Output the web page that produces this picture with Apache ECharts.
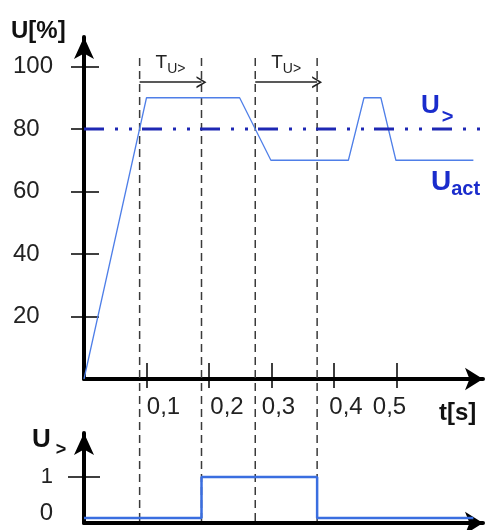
<!DOCTYPE html>
<html>
<head>
<meta charset="utf-8">
<script src="https://cdn.jsdelivr.net/npm/echarts@6/dist/echarts.min.js"></script>
<style>
  html, body { margin: 0; padding: 0; background: #fff; }
  #chart { width: 488px; height: 530px; }
</style>
</head>
<body>
<div id="chart"></div>
<script>
// U_act curve (time in s, value in %)
const uactTime = [0, 0.1, 0.249, 0.299, 0.423, 0.448, 0.475, 0.499, 0.623];
const uactValue = [0, 90, 90, 70, 70, 90, 90, 70, 70];

// threshold U>
const thresholdValue = 80;
const thresholdTime = [0, 0.637];

// dashed guides: pick-up crossing and end of delay
const guideTimes = [0.089, 0.188, 0.274, 0.373];
const delayStart = [0.089, 0.274];
const delayEnd = [0.188, 0.373];
const delayLevel = 95;

// U> output signal
const tripTime = [0, 0.188, 0.188, 0.373, 0.373, 0.623];
const tripValue = [0, 0, 1, 1, 0, 0];

// axes
const yTicks = [20, 40, 60, 80, 100];
const xTicks = [0.1, 0.2, 0.3, 0.4, 0.5];
const xTickLabels = ['0,1', '0,2', '0,3', '0,4', '0,5'];
const tripTicks = [0, 1];

const FONT = '"Liberation Sans", Arial, sans-serif';
const chart = echarts.init(document.getElementById('chart'));

// hand placed label shifts in the original drawing
const xLabelShift = [17, 18, 7, 12, -7];
const xRich = {};
xLabelShift.forEach((d, i) => {
  xRich['l' + i] = {
    fontSize: 24, color: '#222', fontFamily: FONT,
    padding: d >= 0 ? [0, 0, 0, 2 * d] : [0, -2 * d, 0, 0]
  };
});

const zip = (a, b) => a.map((v, i) => [v, b[i]]);
const nearest = (arr, v) => {
  let k = 0;
  arr.forEach((a, i) => { if (Math.abs(a - v) < Math.abs(arr[k] - v)) k = i; });
  return k;
};

const X_MAX = 0.6384;
const Y_MAX = 109.44;
const TRIP_MIN = -0.122;
const TRIP_MAX = 2.073;

const blackLine = { color: '#000', width: 4 };
const tickLine = { color: '#000', width: 1.5 };

const guideSeries = guideTimes.map(t => ({
  type: 'line',
  xAxisIndex: 0, yAxisIndex: 0,
  data: [[t, 102.7], [t, -46.1]],
  symbol: 'none',
  clip: false,
  silent: true,
  z: 1,
  lineStyle: { color: '#3a3a3a', width: 1.5, type: [8, 5] }
}));

const option = {
  animation: false,
  textStyle: { fontFamily: FONT },
  title: [
    { text: 'U[%]', left: 6, top: 14, textStyle: { fontSize: 24, fontWeight: 'bold', color: '#111', fontFamily: FONT } },
    { text: 't[s]', left: 434, top: 396, textStyle: { fontSize: 24, fontWeight: 'bold', color: '#111', fontFamily: FONT } },
    {
      text: '{u|U}{s|>}', left: 27, top: 416,
      textStyle: {
        rich: {
          u: { fontSize: 26, fontWeight: 'bold', color: '#111', fontFamily: FONT },
          s: { fontSize: 18, fontWeight: 'bold', color: '#111', fontFamily: FONT, padding: [20, 0, 0, 5] }
        }
      }
    },
    {
      text: '{u|U}{s|>}', left: 416, top: 80,
      textStyle: {
        rich: {
          u: { fontSize: 26, fontWeight: 'bold', color: '#1a2ccc', fontFamily: FONT },
          s: { fontSize: 20, fontWeight: 'bold', color: '#1a2ccc', fontFamily: FONT, padding: [22, 0, 0, 2] }
        }
      }
    },
    {
      text: '{u|U}{s|act}', left: 426, top: 160,
      textStyle: {
        rich: {
          u: { fontSize: 28, fontWeight: 'bold', color: '#1a2ccc', fontFamily: FONT },
          s: { fontSize: 20, fontWeight: 'bold', color: '#1a2ccc', fontFamily: FONT, padding: [14, 0, 0, 0] }
        }
      }
    }
  ],
  grid: [
    { left: 84, top: 37, width: 399, height: 342 },
    { left: 84, top: 433, width: 399, height: 90 }
  ],
  xAxis: [
    {
      gridIndex: 0, type: 'value', min: 0, max: X_MAX, position: 'bottom',
      axisLine: { onZero: false, lineStyle: blackLine, symbol: ['none', 'arrow'], symbolSize: [17, 18] },
      splitLine: { show: false },
      axisTick: { customValues: xTicks, length: 9, lineStyle: tickLine },
      axisLabel: {
        customValues: xTicks, margin: 16, fontSize: 24, color: '#222',
        formatter: v => { const i = nearest(xTicks, v); return '{l' + i + '|' + xTickLabels[i] + '}'; },
        rich: xRich
      }
    },
    {
      gridIndex: 0, type: 'value', min: 0, max: X_MAX, position: 'bottom', offset: 0,
      axisLine: { show: false, onZero: false },
      splitLine: { show: false },
      axisTick: { customValues: xTicks, inside: true, length: 16, lineStyle: tickLine },
      axisLabel: { show: false }
    },
    {
      gridIndex: 1, type: 'value', min: 0, max: X_MAX, position: 'bottom',
      axisLine: { onZero: false, lineStyle: blackLine, symbol: ['none', 'arrow'], symbolSize: [17, 18] },
      splitLine: { show: false },
      axisTick: { show: false },
      axisLabel: { show: false }
    }
  ],
  yAxis: [
    {
      gridIndex: 0, type: 'value', min: 0, max: Y_MAX, position: 'left',
      axisLine: { onZero: false, lineStyle: blackLine, symbol: ['none', 'arrow'], symbolSize: [15, 22] },
      splitLine: { show: false },
      axisTick: { customValues: yTicks, length: 13, lineStyle: tickLine },
      axisLabel: { customValues: yTicks, margin: 71, align: 'left', fontSize: 24, color: '#222' }
    },
    {
      gridIndex: 0, type: 'value', min: 0, max: Y_MAX, position: 'left', offset: 0,
      axisLine: { show: false, onZero: false },
      splitLine: { show: false },
      axisTick: { customValues: yTicks, inside: true, length: 15, lineStyle: tickLine },
      axisLabel: { show: false }
    },
    {
      gridIndex: 1, type: 'value', min: TRIP_MIN, max: TRIP_MAX, position: 'left',
      axisLine: { onZero: false, lineStyle: blackLine, symbol: ['none', 'arrow'], symbolSize: [15, 22] },
      splitLine: { show: false },
      axisTick: { customValues: [1], length: 16, lineStyle: tickLine },
      axisLabel: {
        customValues: tripTicks, margin: 31, fontSize: 22, color: '#222',
        formatter: v => (Math.round(v) === 0 ? '{z|0}' : '{o|1}'),
        rich: {
          z: { fontSize: 24, color: '#222', padding: [0, 0, 10, 0] },
          o: { fontSize: 22, color: '#222' }
        }
      }
    },
    {
      gridIndex: 1, type: 'value', min: TRIP_MIN, max: TRIP_MAX, position: 'left', offset: 0,
      axisLine: { show: false, onZero: false },
      splitLine: { show: false },
      axisTick: { customValues: [1], inside: true, length: 16, lineStyle: tickLine },
      axisLabel: { show: false }
    }
  ],
  series: [
    ...guideSeries,
    {
      name: 'U>',
      type: 'line',
      xAxisIndex: 0, yAxisIndex: 0,
      data: thresholdTime.map(t => [t, thresholdValue]),
      symbol: 'none',
      clip: false,
      z: 3,
      lineStyle: { color: '#1e28b4', width: 3, type: [20, 11, 3, 11, 3, 10] }
    },
    {
      name: 'Uact',
      type: 'line',
      xAxisIndex: 0, yAxisIndex: 0,
      data: zip(uactTime, uactValue),
      symbol: 'none',
      z: 2,
      lineStyle: { color: '#4f7fe8', width: 1.3 }
    },
    {
      name: 'delay',
      type: 'line',
      xAxisIndex: 0, yAxisIndex: 0,
      data: [],
      symbol: 'none',
      markLine: {
        silent: true,
        symbol: ['none', 'path://M0,10 L5,0 L10,10 L8.4,10 L5,3 L1.6,10 Z'],
        symbolSize: [12, 10],
        lineStyle: { color: '#222', width: 1.5, type: 'solid' },
        label: {
          show: true, position: 'insideMiddleTop', distance: 6,
          formatter: '{t|T}{s|U>}',
          rich: {
            t: { fontSize: 19, color: '#222', fontFamily: FONT },
            s: { fontSize: 14, color: '#222', fontFamily: FONT, padding: [12, 0, 0, 0] }
          }
        },
        data: delayStart.map((t, i) => [
          { coord: [t, delayLevel] },
          { coord: [delayEnd[i], delayLevel] }
        ])
      }
    },
    {
      name: 'U> out',
      type: 'line',
      xAxisIndex: 2, yAxisIndex: 2,
      data: zip(tripTime, tripValue),
      symbol: 'none',
      z: 2,
      lineStyle: { color: '#3a6ee0', width: 2.5 }
    }
  ]
};

chart.setOption(option);
</script>
</body>
</html>
